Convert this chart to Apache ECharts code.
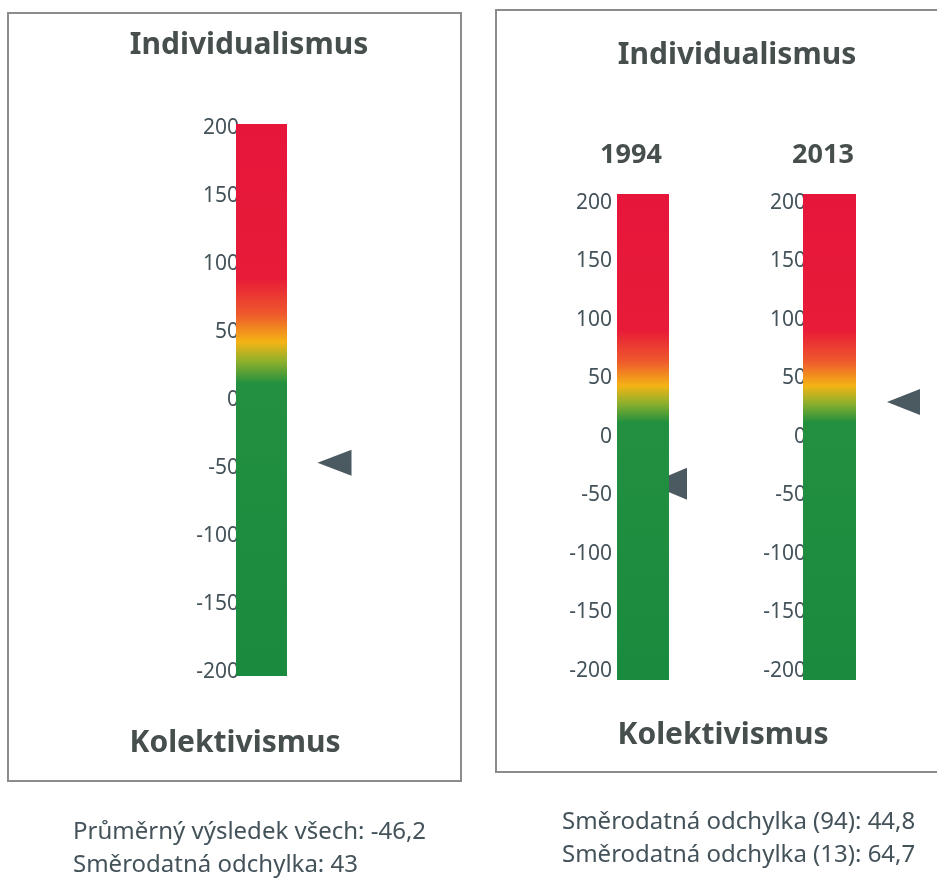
<!DOCTYPE html>
<html>
<head>
<meta charset="utf-8">
<script src="https://cdn.jsdelivr.net/npm/echarts@6/dist/echarts.min.js"></script>
<style>
  html, body { margin: 0; padding: 0; background: #fff; }
  #chart { width: 937px; height: 883px; }
</style>
</head>
<body>
<div id="chart"></div>
<script>
// scale of the thermometer bars
const scaleMin = -200
const scaleMax = 200
const scaleStep = 50

// one bar per panel: overall, 1994, 2013
const barNames = ['Všichni', '1994', '2013']
const meanValues = [-46.2, -40, 30]

const headTitle = 'Individualismus'
const footTitle = 'Kolektivismus'
const yearLabels = ['1994', '2013']
const notesLeft = ['Průměrný výsledek všech: -46,2', 'Směrodatná odchylka: 43']
const notesRight = ['Směrodatná odchylka (94): 44,8', 'Směrodatná odchylka (13): 64,7']

const font = '"Noto Sans", "DejaVu Sans", sans-serif'
const textColor = '#474f4e'
const labelColor = '#44525a'
const markColor = '#4b5a61'

// grid placement for each bar
const grids = [
    { left: 236, width: 51, top: 128, height: 544 },
    { left: 617, width: 52, top: 203, height: 468 },
    { left: 803, width: 53, top: 203, height: 468 }
]
const barPad = [4, 9, 9]
const labelMargin = [-3, 5, -3]
const markOffset = [73, 25, 74]
const markSize = [[26, 34], [32, 38], [26, 33]]

var myChart = echarts.init(document.getElementById('chart'))

function barGradient() {
    return new echarts.graphic.LinearGradient(0, 0, 0, 1, [
        { offset: 0, color: '#e6163b' },
        { offset: 0.28, color: '#e81b38' },
        { offset: 0.345, color: '#ee5a2c' },
        { offset: 0.395, color: '#f4b415' },
        { offset: 0.43, color: '#8fb02c' },
        { offset: 0.47, color: '#22903f' },
        { offset: 1, color: '#1a8a3e' }
    ])
}

let series = []
barNames.forEach((name, i) => {
    // the gradient thermometer
    series.push({
        type: 'custom',
        xAxisIndex: i,
        yAxisIndex: i,
        z: 5,
        silent: true,
        data: [[0, scaleMin, scaleMax]],
        renderItem: function (params, api) {
            let top = api.coord([api.value(0), api.value(2)])
            let bottom = api.coord([api.value(0), api.value(1)])
            let w = api.size([1, 0])[0]
            return {
                type: 'rect',
                shape: {
                    x: top[0] - w / 2,
                    y: top[1] - barPad[i],
                    width: w,
                    height: bottom[1] - top[1] + barPad[i] * 2
                },
                style: { fill: barGradient() }
            }
        }
    })
    // the mean marker
    series.push({
        type: 'scatter',
        xAxisIndex: i,
        yAxisIndex: i,
        z: 3,
        silent: true,
        symbol: 'triangle',
        symbolRotate: 90,
        symbolSize: markSize[i],
        symbolOffset: [markOffset[i], 0],
        itemStyle: { color: markColor, opacity: 1 },
        data: [[0, meanValues[i]]]
    })
})

function text(str, x, y, size, weight, align, color) {
    return {
        type: 'text',
        x: x,
        y: y,
        z: 10,
        style: {
            text: str,
            font: weight + ' ' + size + 'px ' + font,
            fill: color,
            align: align,
            verticalAlign: 'middle'
        }
    }
}

let option = {
    animation: false,
    backgroundColor: '#fff',
    grid: grids,
    xAxis: grids.map((g, i) => ({
        type: 'category',
        gridIndex: i,
        data: [barNames[i]],
        show: false
    })),
    yAxis: grids.map((g, i) => ({
        type: 'value',
        gridIndex: i,
        min: scaleMin,
        max: scaleMax,
        interval: scaleStep,
        axisLine: { show: false },
        axisTick: { show: false },
        splitLine: { show: false },
        axisLabel: {
            color: labelColor,
            fontFamily: font,
            fontSize: 21,
            margin: labelMargin[i]
        }
    })),
    graphic: [
        // panel frames
        { type: 'rect', z: 0, shape: { x: 8, y: 13, width: 453, height: 768 }, style: { fill: null, stroke: '#8c8c8c', lineWidth: 2 } },
        { type: 'rect', z: 0, shape: { x: 496, y: 10, width: 460, height: 762 }, style: { fill: null, stroke: '#8c8c8c', lineWidth: 2 } },
        text(headTitle, 249, 45, 30, 'bold', 'center', textColor),
        text(footTitle, 235, 743, 30, 'bold', 'center', textColor),
        text(headTitle, 737, 55, 30, 'bold', 'center', textColor),
        text(yearLabels[0], 631, 155, 27, 'bold', 'center', textColor),
        text(yearLabels[1], 823, 155, 27, 'bold', 'center', textColor),
        text(footTitle, 723, 735, 30, 'bold', 'center', textColor),
        text(notesLeft[0], 73, 832, 24, 'normal', 'left', labelColor),
        text(notesLeft[1], 73, 865, 24, 'normal', 'left', labelColor),
        text(notesRight[0], 562, 822, 24, 'normal', 'left', labelColor),
        text(notesRight[1], 562, 855, 24, 'normal', 'left', labelColor)
    ],
    series: series
}

myChart.setOption(option)
</script>
</body>
</html>
